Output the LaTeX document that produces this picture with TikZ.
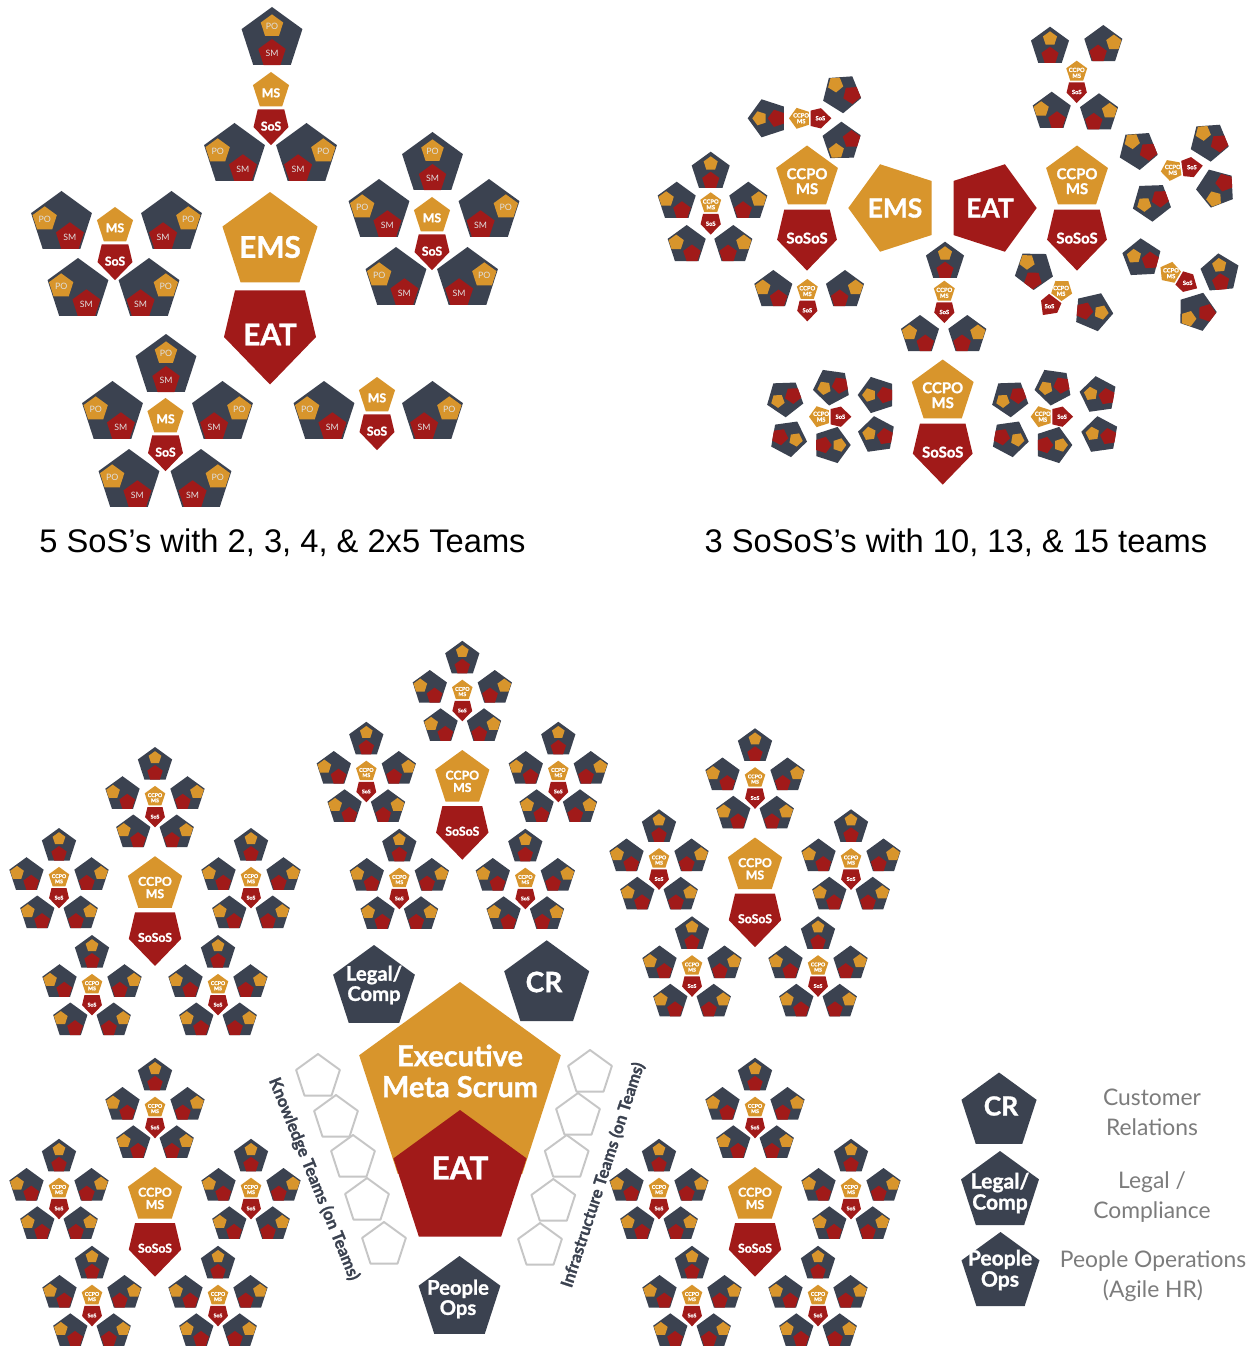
\documentclass[tikz,border=0pt]{standalone}
\usepackage{fontspec}
\setmainfont{Lato}[BoldFeatures={FakeBold=1.2}]
\newfontfamily\capfont{Liberation Sans}
\usetikzlibrary{calc}

\definecolor{slate}{HTML}{3B4250}
\definecolor{gold}{HTML}{D8952C}
\definecolor{crimson}{HTML}{A11A19}
\definecolor{ash}{HTML}{7C7C7C}

% pentagon path: {turn}{centre}{radius}
\newcommand\pgon[3]{($(#2)+(90+#1:#3)$) -- ($(#2)+(162+#1:#3)$) -- ($(#2)+(234+#1:#3)$) -- ($(#2)+(306+#1:#3)$) -- ($(#2)+(18+#1:#3)$) -- cycle}

% team tags are off unless a scope turns them on
\newcommand\teamtags[2]{}
% one team: PO at #1 (size #2), SM at #3 (size #4)
\newcommand\teamcode[4]{%
  \fill[slate] \pgon{0}{0,0}{1};
  \fill[gold] \pgon{0}{#1}{#2};
  \fill[crimson] \pgon{0}{#3}{#4};
  \teamtags{#1}{#3}}
\newcommand\teamvarL{\teamcode{167:0.54}{0.4}{-59:0.51}{0.46}}
\newcommand\teamvarR{\teamcode{13:0.54}{0.4}{-121:0.51}{0.46}}
\newcommand\teamvarT{\teamcode{90:0.4}{0.37}{-90:0.45}{0.45}}

\tikzset{
  tlbl/.style={text=white!88!black, font=\fontsize{5}{5}\selectfont, inner sep=0pt},
  lbl/.style={text=white, font=\bfseries\fontsize{7}{7}\selectfont, align=center, inner sep=0pt},
  lblsize/.style={lbl/.append style={font=\bfseries\fontsize{#1}{#1}\selectfont}},
  teamlabels/.code={\def\teamtags##1##2{\node[tlbl] (-po) at (##1) {PO}; \node[tlbl] (-sm) at (##2) {SM};}},
  ghost/.style={draw=gray!45, line width=1.1pt, fill=white, line join=round},
  unit/.style={fill=slate},
  unitlbl/.style={text=white, font=\bfseries\fontsize{#1}{#1}\selectfont, align=center, inner sep=0pt},
  note/.style={text=ash, font=\fontsize{13}{17}\selectfont, align=center},
  sidenote/.style={text=slate, font=\bfseries\fontsize{9.5}{9.5}\selectfont},
  pics/team/.style={code={\csname teamvar#1\endcsname}},
  pics/duo/.style 2 args={code={
    \fill[gold] \pgon{0}{0,0}{1};
    \fill[crimson] (-0.7,-0.97) -- (0.7,-0.97) -- (0.92,-1.9) -- (0,-2.85) -- (-0.92,-1.9) -- cycle;
    \node[lbl] (-ms) at (0,-0.1) {#1};
    \node[lbl] (-sos) at (0,-1.85) {#2};}},
  pics/sos5/.style={code={
    \pic[scale=10.8, lblsize=3] {duo={CCPO\\MS}{SoS}};
    \pic[scale=18] at (0,31.7) {team=T};
    \foreach \dx/\dy/\v in {-32.5/2.5/L, 32.5/2.5/R, -21.7/-35.8/L, 21.7/-35.8/R}
      \pic[scale=18] at (\dx,\dy) {team=\v};}},
  pics/sosos/.style={code={
    \pic[scale=28.5, lblsize=7] {duo={CCPO\\MS}{SoSoS}};
    \foreach \dx/\dy in {0/88, -96/7, 96/7, -63/-100, 63/-100}
      \pic at (\dx,\dy) {sos5};}}
}

\begin{document}
\begin{tikzpicture}[x=0.02cm, y=0.02cm]
\path[use as bounding box, fill=white] (0,0) rectangle (1248,-1351);

% 5 SoS's
\begin{scope}[teamlabels]
\foreach \px/\py/\v in {272/39/T, 234.5/155/L, 306.5/155/R,
    61.5/223/L, 171.5/223/R, 78/290/L, 149/290/R,
    432.5/164/T, 379/211/L, 489/211/R, 396/279/L, 467.5/279/R,
    166/366/T, 112.5/413/L, 222.5/413/R, 129/481/L, 201/481/R,
    324/413/L, 432.5/413/R}
  \pic[scale=32] at (\px,-\py) {team=\v};
\end{scope}
\foreach \px/\py in {271/91, 115/226, 432/216, 165.5/417, 377/396}
  \pic[scale=19, lblsize=7] at (\px,-\py) {duo={MS}{SoS}};
\pic[scale=50, lblsize=17] (emsA) at (270,-242) {duo={EMS}{EAT}};
\node[font=\capfont\fontsize{18.6}{22}\selectfont] (capA) at (282.5,-543) {5 SoS’s with 2, 3, 4, \& 2x5 Teams};

% 3 SoSoS's
\fill[gold] \pgon{90}{894.3,-208}{46};
\fill[crimson] \pgon{-90}{990.7,-208}{46};
\node[unitlbl=15] (emsB) at (895,-208) {EMS};
\node[unitlbl=15] (eatB) at (990,-208) {EAT};
\foreach \px/\py in {807/178, 1077/178, 942.7/392}
  \pic[scale=32.5, lblsize=8.5] at (\px,-\py) {duo={CCPO\\MS}{SoSoS}};
\foreach \px/\py/\a in {800/118.3/90, 710.7/203.3/0, 807.3/290/0, 1076.7/71.7/0,
    1171.7/170/98, 1170/272.7/60, 1061.7/290/-37, 944.3/291.7/0,
    820/416.7/90, 1041.7/416.7/90}
  \pic[scale=11, rotate=\a, lblsize=3.3] at (\px,-\py) {duo={CCPO\\MS}{SoS}};
\foreach \px/\py/\v/\a in {767.7/118.3/T/90, 841.7/93.3/R/112, 841.7/141.7/L/73,
    710.7/171.7/T/0, 676.7/201.7/L/0, 748.3/201.7/R/0, 686.7/245/L/0, 733.3/245/R/0,
    773.3/290/L/0, 845/290/R/0,
    1050/46.7/T/0, 1103.3/45/R/0, 1051.7/111.7/L/0, 1099/113.3/R/0,
    1138.3/150/R/112, 1209.3/141.7/R/112, 1151.7/201.7/T/110, 1216/188.3/L/93,
    1141.7/258.3/T/75, 1220/273.3/T/5, 1196.7/311.7/L/53,
    1034/270/L/-37, 1093.3/311.7/T/-95,
    945/261.7/T/0, 920/335/L/0, 967.3/335/R/0}
  \pic[scale=20, rotate=\a] at (\px,-\py) {team=\v};
\foreach \px/\py/\a in {785/398.3/110, 831.7/386.7/100, 876.7/395/90,
    788.3/438.3/-100, 831.7/445/-90, 876.7/435/80,
    1010/398.3/110, 1053.3/386.7/100, 1098.3/395/80,
    1010/438.3/-100, 1053.3/445/-90, 1100/435/80}
  \pic[scale=19, rotate=\a] at (\px,-\py) {team=T};
\node[font=\capfont\fontsize{18.6}{22}\selectfont] (capB) at (956,-543) {3 SoSoS’s with 10, 13, \& 15 teams};

% executive level
\foreach \px/\py in {462.3/778.5, 155/884.7, 755/866, 155/1195.5, 755/1195.5}
  \pic at (\px,-\py) {sosos};
\fill[gold] \pgon{0}{460,-1088}{106};
\fill[crimson] \pgon{0}{460,-1180}{70};
\node[text=white, font=\bfseries\fontsize{16.5}{17.6}\selectfont, align=center, inner sep=0pt] (emsC) at (460,-1071) {Executive\\Meta Scrum};
\node[unitlbl=18] (eatC) at (460,-1168) {EAT};
\fill[unit] \pgon{0}{374,-988}{43};
\node[unitlbl=11.5] (legal) at (374,-985) {Legal/\\Comp};
\fill[unit] \pgon{0}{546.7,-985}{44.7};
\node[unitlbl=16] (cr) at (544,-982) {CR};
\fill[unit] \pgon{0}{459.5,-1299}{43};
\node[unitlbl=11.5] (people) at (458,-1299) {People\\Ops};
\foreach \px/\py in {318/1077, 336/1118, 353/1158, 367/1201, 384/1245,
    590/1073, 578/1116, 566.7/1158, 553.3/1202, 540/1246}
  \draw[ghost] \pgon{0}{\px,-\py}{23};
\node[sidenote, rotate=-68] (know) at (314,-1179) {Knowledge Teams (on Teams)};
\node[sidenote, rotate=72] (infra) at (603,-1175) {Infrastructure Teams (on Teams)};

% legend
\fill[unit] \pgon{0}{999,-1112}{39.5};
\node[unitlbl=15] (keyCR) at (1001,-1106) {CR};
\fill[unit] \pgon{0}{1000,-1192}{41};
\node[unitlbl=12] (keyLegal) at (1000,-1193) {Legal/\\Comp};
\fill[unit] \pgon{0}{1000.5,-1273}{41};
\node[unitlbl=12] (keyPeople) at (1000,-1270) {People\\Ops};
\node[note] (noteCR) at (1152,-1112) {Customer\\Relations};
\node[note] (noteLegal) at (1152,-1197) {Legal /\\Compliance};
\node[note] (notePeople) at (1153,-1276) {People Operations\\(Agile HR)};
\end{tikzpicture}
\end{document}
